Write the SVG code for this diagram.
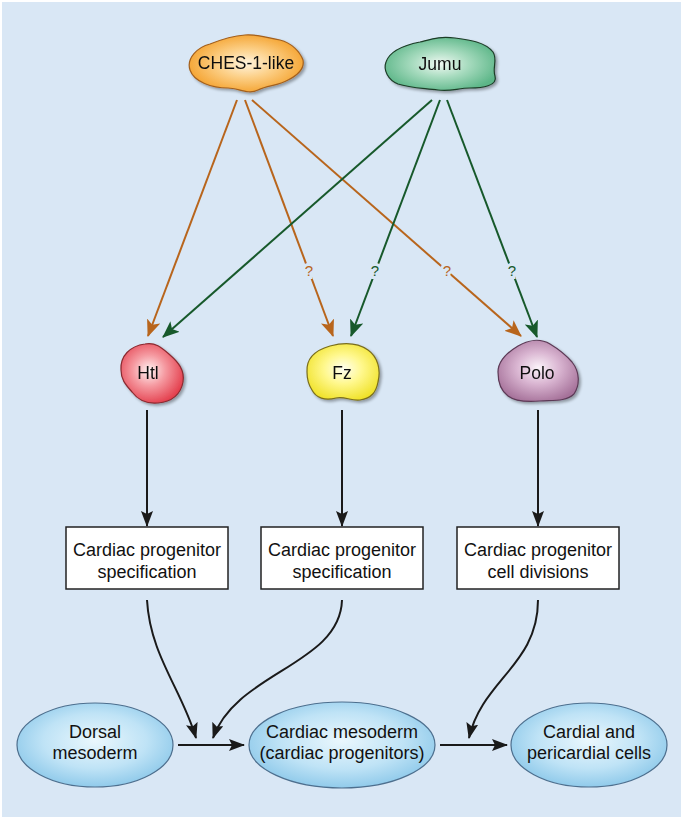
<svg xmlns="http://www.w3.org/2000/svg" width="683" height="820" viewBox="0 0 683 820">
<defs>
<style>
text{font-family:"Liberation Sans",Arial,sans-serif;fill:#111;text-anchor:middle}
.lbl{font-size:18px}
.blab{font-size:17.5px}
.box{fill:#fff;stroke:#222;stroke-width:1.5}
.blk{fill:none;stroke:#1a1a1a;stroke-width:2;marker-end:url(#ab)}
.org{fill:none;stroke:#b8651c;stroke-width:2;marker-end:url(#ao)}
.grn{fill:none;stroke:#17592b;stroke-width:2;marker-end:url(#ag)}
.q{font-size:15px;paint-order:stroke;stroke:#d9e7f5;stroke-width:6px}
.ell{stroke:#4d6f8e;stroke-width:1.2;fill:url(#gb)}
</style>
<marker id="ab" viewBox="0 0 16 12" refX="15" refY="6" markerWidth="16" markerHeight="12" markerUnits="userSpaceOnUse" orient="auto"><path d="M0,0 L16,6 L0,12 L3,6 Z" fill="#1a1a1a"/></marker>
<marker id="ao" viewBox="0 0 17 14" refX="16" refY="7" markerWidth="17" markerHeight="14" markerUnits="userSpaceOnUse" orient="auto"><path d="M0,0 L17,7 L0,14 L4,7 Z" fill="#b8651c"/></marker>
<marker id="ag" viewBox="0 0 17 14" refX="16" refY="7" markerWidth="17" markerHeight="14" markerUnits="userSpaceOnUse" orient="auto"><path d="M0,0 L17,7 L0,14 L4,7 Z" fill="#17592b"/></marker>
<radialGradient id="go" cx="50%" cy="50%" r="55%"><stop offset="0" stop-color="#fff4de"/><stop offset="0.45" stop-color="#fcd088"/><stop offset="1" stop-color="#f4a02a"/></radialGradient>
<radialGradient id="gg" cx="50%" cy="50%" r="55%"><stop offset="0" stop-color="#f0f9f3"/><stop offset="0.45" stop-color="#a9dcc0"/><stop offset="1" stop-color="#5cb688"/></radialGradient>
<radialGradient id="gr" cx="45%" cy="45%" r="58%"><stop offset="0" stop-color="#fff3f3"/><stop offset="0.45" stop-color="#f59aa1"/><stop offset="1" stop-color="#e4404e"/></radialGradient>
<radialGradient id="gy" cx="50%" cy="45%" r="58%"><stop offset="0" stop-color="#fffff2"/><stop offset="0.45" stop-color="#fff88e"/><stop offset="1" stop-color="#f0e22a"/></radialGradient>
<radialGradient id="gp" cx="50%" cy="45%" r="58%"><stop offset="0" stop-color="#fbf3f9"/><stop offset="0.45" stop-color="#dab6d2"/><stop offset="1" stop-color="#a6729a"/></radialGradient>
<radialGradient id="gb" cx="50%" cy="45%" r="60%"><stop offset="0" stop-color="#eaf7fd"/><stop offset="0.55" stop-color="#bfe3f6"/><stop offset="1" stop-color="#86c5e8"/></radialGradient>
<filter id="sh" x="-20%" y="-20%" width="140%" height="140%"><feGaussianBlur in="SourceAlpha" stdDeviation="1.5"/><feOffset dx="1.5" dy="2" result="o"/><feComponentTransfer><feFuncA type="linear" slope="0.35"/></feComponentTransfer><feMerge><feMergeNode/><feMergeNode in="SourceGraphic"/></feMerge></filter>
</defs>
<rect x="2" y="2" width="679" height="815" fill="#d9e7f5"/>

<g id="connectors">
<line class="org" x1="237" y1="100" x2="148" y2="336"/>
<line class="org" x1="245" y1="100" x2="333" y2="336"/>
<line class="org" x1="252" y1="100" x2="521" y2="336"/>
<line class="grn" x1="432" y1="100" x2="163" y2="337"/>
<line class="grn" x1="440" y1="100" x2="351" y2="336"/>
<line class="grn" x1="447" y1="100" x2="537" y2="337"/>
<text class="q" x="309" y="276" style="fill:#b8651c">?</text>
<text class="q" x="447" y="276" style="fill:#b8651c">?</text>
<text class="q" x="375" y="276" style="fill:#17592b">?</text>
<text class="q" x="512" y="276" style="fill:#17592b">?</text>
<line class="blk" x1="147" y1="410" x2="147" y2="526"/>
<line class="blk" x1="342" y1="410" x2="342" y2="526"/>
<line class="blk" x1="538" y1="410" x2="538" y2="526"/>
<path class="blk" d="M147,600 C150,655 182,690 196,738"/>
<path class="blk" d="M342,600 C340,665 236,672 213,738"/>
<path class="blk" d="M538,600 C538,665 482,680 469,738"/>
<line class="blk" x1="178" y1="745" x2="244" y2="745"/>
<line class="blk" x1="440" y1="745" x2="507" y2="745"/>
</g>

<g id="ches" filter="url(#sh)">
<path d="M190,70 C186,58 198,47 210,44 C220,40 232,36 245,35 C258,34 268,38 280,40 C292,43 300,52 303,60 C305,70 296,76 288,80 C278,86 268,85 258,90 C248,95 238,88 228,88 C212,88 194,82 190,70 Z" fill="url(#go)" stroke="#a3601e" stroke-width="1.2"/>
<text class="blab" x="246" y="69">CHES-1-like</text>
</g>
<g id="jumu" filter="url(#sh)">
<path d="M386,62 C390,50 405,45 420,42 C432,39 440,36 455,38 C470,40 485,42 493,52 C498,60 492,68 495,76 C498,86 482,88 470,88 C458,88 450,92 438,90 C422,88 410,88 398,84 C388,80 383,70 386,62 Z" fill="url(#gg)" stroke="#1d3d28" stroke-width="1.2"/>
<text class="blab" x="440" y="70">Jumu</text>
</g>
<g id="htl" filter="url(#sh)">
<path d="M121,370 C120,356 130,346 145,344 C156,342 162,348 170,355 C178,362 185,370 183,382 C181,394 172,402 158,403 C146,404 138,400 132,392 C126,385 121,380 121,370 Z" fill="url(#gr)" stroke="#8a2a30" stroke-width="1.2"/>
<text class="blab" x="148" y="379">Htl</text>
</g>
<g id="fz" filter="url(#sh)">
<path d="M307,372 C306,358 316,350 330,346 C345,342 358,343 368,350 C378,357 381,370 378,382 C376,392 372,398 360,400 C350,401 345,396 336,398 C325,401 316,398 312,390 C308,384 307,378 307,372 Z" fill="url(#gy)" stroke="#7a6e1c" stroke-width="1.2"/>
<text class="blab" x="342" y="379">Fz</text>
</g>
<g id="polo" filter="url(#sh)">
<path d="M498,372 C498,360 508,352 518,346 C528,340 540,338 550,344 C560,350 565,354 572,362 C580,372 580,385 574,394 C566,402 552,400 540,401 C528,402 516,402 508,396 C500,390 498,382 498,372 Z" fill="url(#gp)" stroke="#5c3a56" stroke-width="1.2"/>
<text class="blab" x="537" y="379">Polo</text>
</g>

<g id="box1">
<rect class="box" x="66" y="527" width="162" height="62"/>
<text class="lbl" x="147" y="556">Cardiac progenitor</text>
<text class="lbl" x="147" y="578">specification</text>
</g>
<g id="box2">
<rect class="box" x="261" y="527" width="162" height="62"/>
<text class="lbl" x="342" y="556">Cardiac progenitor</text>
<text class="lbl" x="342" y="578">specification</text>
</g>
<g id="box3">
<rect class="box" x="457" y="527" width="162" height="62"/>
<text class="lbl" x="538" y="556">Cardiac progenitor</text>
<text class="lbl" x="538" y="578">cell divisions</text>
</g>

<g id="dorsal">
<ellipse class="ell" cx="95" cy="745" rx="78" ry="42"/>
<text class="lbl" x="95" y="738">Dorsal</text>
<text class="lbl" x="95" y="759">mesoderm</text>
</g>
<g id="cardiac">
<ellipse class="ell" cx="342" cy="745" rx="93" ry="43"/>
<text class="lbl" x="342" y="738">Cardiac mesoderm</text>
<text class="lbl" x="342" y="759">(cardiac progenitors)</text>
</g>
<g id="cardial">
<ellipse class="ell" cx="589" cy="745" rx="78" ry="42"/>
<text class="lbl" x="589" y="738">Cardial and</text>
<text class="lbl" x="589" y="759">pericardial cells</text>
</g>
</svg>
